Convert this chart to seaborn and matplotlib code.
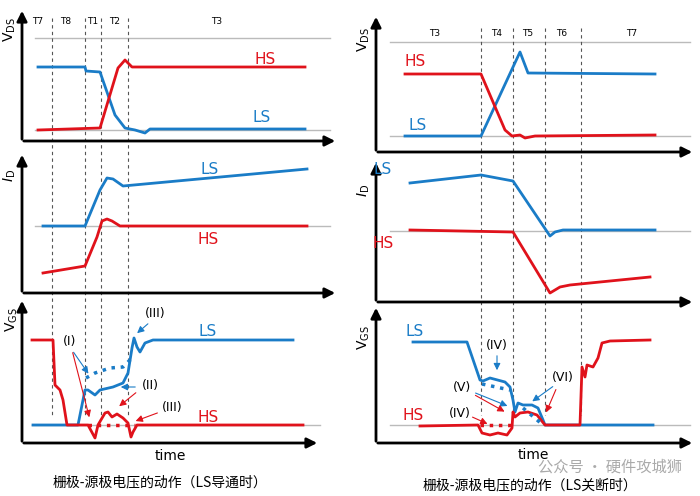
import matplotlib
matplotlib.use("Agg")
import matplotlib.pyplot as plt
import seaborn as sns
import pandas as pd

plt.rcParams["font.family"] = ["DejaVu Sans", "Noto Sans CJK SC"]
RED = "#e0121b"; BLUE = "#1a7cc7"; GRAY = "#bbbbbb"

# ---- waveform data (schematic time, level) ----
L_VDS_LS_t = [38, 85, 86, 100, 115, 125, 135, 145, 150, 305]
L_VDS_LS_v = [67, 67, 71, 72, 115, 128, 130, 133, 129, 129]
L_VDS_HS_t = [38, 100, 118, 125, 132, 305]
L_VDS_HS_v = [130, 128, 68, 60, 67, 67]
L_ID_LS_t = [43, 85, 100, 107, 113, 123, 307]
L_ID_LS_v = [226, 226, 190, 178, 179, 186, 169]
L_ID_HS_t = [43, 85, 97, 102, 107, 112, 120, 307]
L_ID_HS_v = [273, 266, 237, 221, 219, 221, 226, 226]
L_VGS_HS_t = [32, 53, 55, 60, 63, 67, 88, 95, 98, 105, 108, 112, 117, 123, 128, 131, 133, 137, 303]
L_VGS_HS_v = [340, 340, 385, 390, 400, 425, 425, 438, 425, 413, 412, 417, 414, 418, 423, 437, 432, 425, 425]
L_VGS_LS_t = [33, 78, 85, 88, 95, 100, 113, 123, 128, 132, 134, 137, 140, 145, 153, 293]
L_VGS_LS_v = [425, 425, 390, 390, 395, 390, 387, 383, 373, 348, 338, 347, 352, 343, 340, 340]
L_VGS_LSdot_t = [86, 95, 110, 123, 132]
L_VGS_LSdot_v = [378, 373, 368, 367, 358]

R_VDS_HS_t = [405, 481, 505, 512, 520, 525, 535, 655]
R_VDS_HS_v = [74, 74, 130, 136, 135, 138, 136, 135]
R_VDS_LS_t = [405, 481, 520, 528, 655]
R_VDS_LS_v = [136, 136, 52, 73, 74]
R_ID_LS_t = [410, 481, 513, 550, 555, 563, 655]
R_ID_LS_v = [183, 175, 181, 236, 232, 230, 230]
R_ID_HS_t = [410, 513, 550, 560, 570, 650]
R_ID_HS_v = [230, 232, 293, 287, 285, 277]
R_VGS_LS_t = [413, 467, 480, 483, 490, 505, 510, 513, 515, 518, 523, 532, 538, 543, 545, 653]
R_VGS_LS_v = [342, 342, 380, 381, 378, 382, 387, 400, 412, 403, 405, 405, 408, 420, 425, 425]
R_VGS_HS_t = [420, 478, 482, 490, 498, 507, 512, 513, 515, 520, 528, 537, 545, 580, 582, 585, 587, 593, 598, 602, 610, 650]
R_VGS_HS_v = [426, 425, 433, 435, 433, 435, 428, 412, 417, 413, 412, 415, 425, 425, 367, 377, 365, 367, 358, 343, 341, 340]
R_VGS_LSdot1_t = [482, 510]; R_VGS_LSdot1_v = [384, 390]
R_VGS_LSdot2_t = [523, 543]; R_VGS_LSdot2_v = [408, 425]
L_VGS_HSdot_t = [88, 135]; L_VGS_HSdot_v = [425, 425]
R_VGS_HSdot_t = [480, 512]; R_VGS_HSdot_v = [425, 425]

L_phase_x = [52, 85, 101, 128]; L_phase_lbl = ["T7", "T8", "T1", "T2", "T3"]; L_lbl_x = [38, 66, 93, 115, 217]
R_phase_x = [481, 513, 545, 581]; R_phase_lbl = ["T3", "T4", "T5", "T6", "T7"]; R_lbl_x = [435, 497, 528, 562, 632]

fig = plt.figure(figsize=(7, 4.96), dpi=100)
ax = fig.add_axes([0, 0, 1, 1])
ax.set_xlim(0, 700); ax.set_ylim(496, 0); ax.axis("off")

def line(t, v, c, ls="-", lw=2):
    sns.lineplot(data=pd.DataFrame({"t": t, "v": v}), x="t", y="v", sort=False,
                 color=c, lw=lw, ls=ls, ax=ax, legend=False)

def hl(y, x0, x1):
    ax.plot([x0, x1], [y, y], color=GRAY, lw=1)

def axes_arrows(x0, ytop, ybot, xr):
    ax.annotate("", xy=(x0, ytop), xytext=(x0, ybot + 1),
                arrowprops=dict(arrowstyle="-|>,head_width=0.3,head_length=0.6", lw=2, color="k"))
    ax.annotate("", xy=(xr, ybot), xytext=(x0 - 1, ybot),
                arrowprops=dict(arrowstyle="-|>,head_width=0.3,head_length=0.6", lw=2, color="k"))

def ylabel(x, y, sub):
    s = "$I_{\\mathregular{D}}$" if sub == "D" else "V$_{\\mathregular{%s}}$" % sub
    ax.text(x, y, s, rotation=90, ha="center", va="center", fontsize=10)

# gray reference lines
hl(38, 35, 330); hl(130, 35, 330); hl(226, 35, 330); hl(425, 32, 320)
hl(42, 390, 690); hl(136, 390, 690); hl(231, 390, 690); hl(425, 390, 690)

# phase dashed lines
for x in L_phase_x:
    ax.plot([x, x], [18, 415], color="#555555", lw=0.8, ls=(0, (3, 3)))
for x in R_phase_x:
    ax.plot([x, x], [28, 415], color="#555555", lw=0.8, ls=(0, (3, 3)))
for lb, x in zip(L_phase_lbl, L_lbl_x):
    ax.text(x, 22, lb, fontsize=6.5, ha="center", va="center")
for lb, x in zip(R_phase_lbl, R_lbl_x):
    ax.text(x, 33, lb, fontsize=6.5, ha="center", va="center")

# axes
axes_arrows(22, 8, 141, 338); axes_arrows(22, 152, 293, 338); axes_arrows(22, 298, 443, 320)
axes_arrows(376, 14, 152, 695); axes_arrows(376, 160, 302, 695); axes_arrows(376, 305, 443, 695)
ylabel(10, 30, "DS"); ylabel(10, 175, "D"); ylabel(12, 320, "GS")
ylabel(364, 40, "DS"); ylabel(364, 190, "D"); ylabel(364, 338, "GS")

# waveforms
line(L_VDS_LS_t, L_VDS_LS_v, BLUE); line(L_VDS_HS_t, L_VDS_HS_v, RED)
line(L_ID_LS_t, L_ID_LS_v, BLUE); line(L_ID_HS_t, L_ID_HS_v, RED)
line(L_VGS_LS_t, L_VGS_LS_v, BLUE); line(L_VGS_HS_t, L_VGS_HS_v, RED)
line(L_VGS_LSdot_t, L_VGS_LSdot_v, BLUE, ls=":", lw=2.5)
line(L_VGS_HSdot_t, L_VGS_HSdot_v, RED, ls=":", lw=2.5)
line(R_VDS_LS_t, R_VDS_LS_v, BLUE); line(R_VDS_HS_t, R_VDS_HS_v, RED)
line(R_ID_LS_t, R_ID_LS_v, BLUE); line(R_ID_HS_t, R_ID_HS_v, RED)
line(R_VGS_LS_t, R_VGS_LS_v, BLUE); line(R_VGS_HS_t, R_VGS_HS_v, RED)
line(R_VGS_LSdot1_t, R_VGS_LSdot1_v, BLUE, ls=":", lw=2.5)
line(R_VGS_LSdot2_t, R_VGS_LSdot2_v, BLUE, ls=":", lw=2.5)
line(R_VGS_HSdot_t, R_VGS_HSdot_v, RED, ls=":", lw=2.5)

def lab(x, y, s, c):
    ax.text(x, y, s, color=c, fontsize=11, ha="center", va="center")
lab(265, 60, "HS", RED); lab(262, 118, "LS", BLUE); lab(210, 169, "LS", BLUE); lab(208, 240, "HS", RED)
lab(208, 332, "LS", BLUE); lab(208, 417, "HS", RED)
lab(415, 62, "HS", RED); lab(418, 125, "LS", BLUE); lab(383, 170, "LS", BLUE); lab(383, 243, "HS", RED)
lab(415, 332, "LS", BLUE); lab(413, 415, "HS", RED)

def ann(x, y, s, targets):
    ax.text(x, y, s, fontsize=9, ha="center", va="center")
    for (sx, sy, tx, ty, c) in targets:
        ax.annotate("", xy=(tx, ty), xytext=(sx, sy),
                    arrowprops=dict(arrowstyle="-|>,head_width=0.2,head_length=0.4", lw=0.8, color=c))
ann(70, 342, "(I)", [(72, 350, 90, 376, BLUE), (72, 350, 90, 420, RED)])
ann(150, 385, "(II)", [(138, 387, 118, 387, BLUE), (138, 391, 117, 408, RED)])
ann(155, 314, "(III)", [(150, 322, 135, 335, BLUE)])
ann(172, 407, "(III)", [(160, 412, 133, 422, RED)])
ann(497, 345, "(IV)", [(497, 353, 497, 373, BLUE)])
ann(462, 388, "(V)", [(473, 392, 510, 407, BLUE), (473, 394, 507, 413, RED)])
ann(460, 413, "(IV)", [(470, 416, 490, 425, RED)])
ann(563, 377, "(VI)", [(555, 385, 530, 403, BLUE), (557, 387, 545, 415, RED)])

ax.text(170, 456, "time", fontsize=10, ha="center", va="center")
ax.text(533, 455, "time", fontsize=10, ha="center", va="center")
ax.text(610, 467, "公众号 · 硬件攻城狮", fontsize=11, color="#aaaaaa", ha="center", va="center",
        fontfamily="Noto Sans CJK SC")
ax.text(160, 482, "栅极-源极电压的动作（LS导通时）", fontsize=10, ha="center", va="center",
        fontfamily="Noto Sans CJK SC")
ax.text(530, 485, "栅极-源极电压的动作（LS关断时）", fontsize=10, ha="center", va="center",
        fontfamily="Noto Sans CJK SC")

fig.savefig("out.png", dpi=100)
